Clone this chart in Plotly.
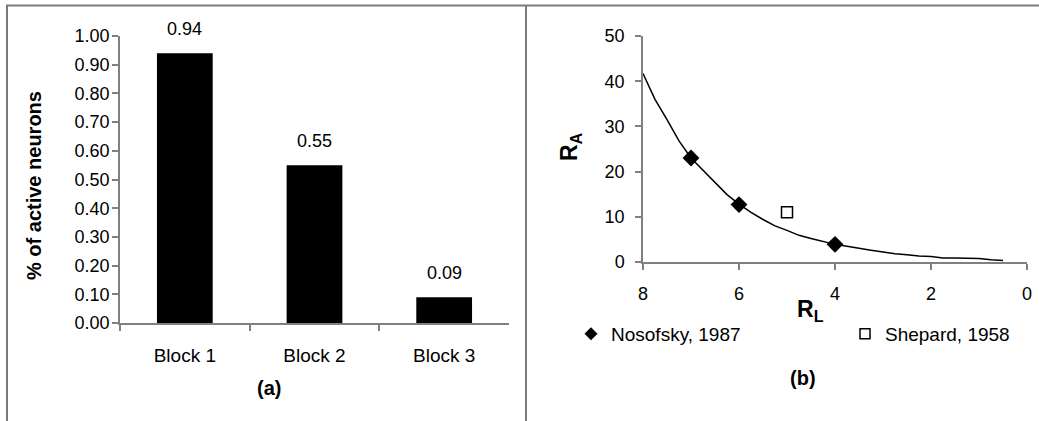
import plotly.graph_objects as go

# ---------------- data ----------------
blocks = ["Block 1", "Block 2", "Block 3"]
active = [0.94, 0.55, 0.09]

curve_rl = [8, 7.75, 7.5, 7.25, 7, 6.75, 6.5, 6.25, 6, 5.75, 5.5, 5.25, 5, 4.75, 4.5,
            4.25, 4, 3.75, 3.5, 3.25, 3, 2.75, 2.5, 2.25, 2, 1.75, 1.5, 1.25, 1, 0.75, 0.5]
curve_ra = [41.7, 36, 31.5, 26.8, 23, 20.3, 17.5, 14.9, 12.8, 11, 9.4, 8.0, 7.0, 5.9, 5.2,
            4.5, 3.9, 3.5, 3.0, 2.6, 2.2, 1.8, 1.6, 1.3, 1.2, 0.9, 0.9, 0.8, 0.8, 0.5, 0.35]

nosofsky_rl = [7, 6, 4]
nosofsky_ra = [23, 12.7, 3.9]
shepard_rl = [5]
shepard_ra = [11]

W, H = 1039, 421
FONT = "Liberation Sans, Arial, sans-serif"
AX = "#808080"


def px(x):
    return x / W


def py(y):
    return 1 - y / H


fig = go.Figure()

# ---- panel (a) ----
fig.add_trace(go.Bar(x=blocks, y=active, marker=dict(color="black", line=dict(width=0)),
                     xaxis="x", yaxis="y", showlegend=False))
for b, v in zip(blocks, active):
    fig.add_annotation(x=b, y=v, xref="x", yref="y", text=f"{v:.2f}", showarrow=False,
                       xanchor="center", yanchor="bottom", yshift=12,
                       font=dict(size=18, color="black", family=FONT))

# ---- panel (b) ----
fig.add_trace(go.Scatter(x=curve_rl, y=curve_ra, mode="lines", line=dict(color="black", width=1.5),
                         xaxis="x2", yaxis="y2", showlegend=False))
fig.add_trace(go.Scatter(x=nosofsky_rl, y=nosofsky_ra, mode="markers",
                         marker=dict(symbol="diamond", size=13, color="black"),
                         xaxis="x2", yaxis="y2", showlegend=False, legendgroup="n"))
fig.add_trace(go.Scatter(x=shepard_rl, y=shepard_ra, mode="markers",
                         marker=dict(symbol="square", size=11, color="white", line=dict(color="black", width=1.5)),
                         xaxis="x2", yaxis="y2", showlegend=False, legendgroup="s"))
# legend entries
fig.add_trace(go.Scatter(x=[None], y=[None], mode="markers", name="Nosofsky, 1987",
                         marker=dict(symbol="diamond", size=10, color="black"),
                         xaxis="x2", yaxis="y2", legendgroup="n", legend="legend"))
fig.add_trace(go.Scatter(x=[None], y=[None], mode="markers", name="Shepard, 1958",
                         marker=dict(symbol="square", size=10, color="white", line=dict(color="black", width=1.5)),
                         xaxis="x2", yaxis="y2", legendgroup="s", legend="legend2"))

tickfont = dict(size=18, color="black", family=FONT)

dom_ax = [px(120), px(509)]
dom_ay = [py(323), py(36)]
dom_bx = [px(643), px(1027)]
dom_by = [py(262), py(36)]

common = dict(showgrid=False, zeroline=False, showline=True, linecolor=AX, linewidth=1.5,
              tickcolor=AX, tickwidth=1.5, ticklen=6, ticks="outside", automargin=False)
over = dict(showgrid=False, zeroline=False, showline=False, tickcolor=AX, tickwidth=1.5,
            ticklen=6, ticks="inside", showticklabels=False, automargin=False)

legfont = dict(size=19, color="black", family=FONT)

fig.update_layout(
    width=W, height=H,
    margin=dict(l=0, r=0, t=0, b=0, pad=0),
    paper_bgcolor="white", plot_bgcolor="white",
    font=dict(family=FONT, color="black"),
    bargap=0.57,
    xaxis=dict(domain=dom_ax, anchor="y", type="category", range=[-0.5, 2.5],
               tickson="boundaries", tickfont=dict(size=19, color="black", family=FONT),
               ticklabelstandoff=14, **common),
    yaxis=dict(domain=dom_ay, anchor="x", range=[0, 1.0], dtick=0.1, tickformat=".2f",
               tickfont=tickfont, ticklabelstandoff=-1, **common),
    xaxis3=dict(overlaying="x", anchor="y", range=[-0.5, 2.5], tickvals=[-0.5, 0.5, 1.5, 2.5], **over),
    yaxis3=dict(overlaying="y", anchor="x", range=[0, 1.0], dtick=0.1, **over),
    xaxis2=dict(domain=dom_bx, anchor="y2", range=[8, 0], dtick=2,
                tickfont=tickfont, ticklabelstandoff=9, **common),
    yaxis2=dict(domain=dom_by, anchor="x2", range=[0, 50], dtick=10,
                tickfont=tickfont, ticklabelstandoff=7, **common),
    xaxis4=dict(overlaying="x2", anchor="y2", range=[8, 0], dtick=2, **over),
    yaxis4=dict(overlaying="y2", anchor="x2", range=[0, 50], dtick=10, **over),
    legend=dict(orientation="h", x=px(571), y=py(334), xanchor="left", yanchor="middle",
                font=legfont, bgcolor="rgba(0,0,0,0)"),
    legend2=dict(orientation="h", x=px(845), y=py(334), xanchor="left", yanchor="middle",
                 font=legfont, bgcolor="rgba(0,0,0,0)"),
    showlegend=True,
)

# axis titles and panel labels
ann = dict(xref="paper", yref="paper", showarrow=False, xanchor="center", yanchor="middle")
fig.add_annotation(x=px(34), y=py(186), text="<b>% of active neurons</b>", textangle=-90,
                   font=dict(size=20, family=FONT, color="black"), **ann)
fig.add_annotation(x=px(570), y=py(147), text="<b>R<sub>A</sub></b>", textangle=-90,
                   font=dict(size=23, family=FONT, color="black"), **ann)
fig.add_annotation(x=px(810), y=py(310), text="<b>R<sub>L</sub></b>",
                   font=dict(size=23, family=FONT, color="black"), **ann)
fig.add_annotation(x=px(269), y=py(388), text="<b>(a)</b>",
                   font=dict(size=20, family=FONT, color="black"), **ann)
fig.add_annotation(x=px(803), y=py(378), text="<b>(b)</b>",
                   font=dict(size=20, family=FONT, color="black"), **ann)

# panel frame lines
frame = dict(color="#7a7a7a", width=2)
fig.add_shape(type="line", xref="paper", yref="paper", x0=px(6), x1=1, y0=py(5.5), y1=py(5.5), line=frame)
fig.add_shape(type="line", xref="paper", yref="paper", x0=px(7), x1=px(7), y0=py(5), y1=0, line=frame)
fig.add_shape(type="line", xref="paper", yref="paper", x0=px(526), x1=px(526), y0=py(5), y1=0, line=frame)

fig.write_html("out.html", config={"displayModeBar": False},
               post_script="document.body.style.margin='0px';")
